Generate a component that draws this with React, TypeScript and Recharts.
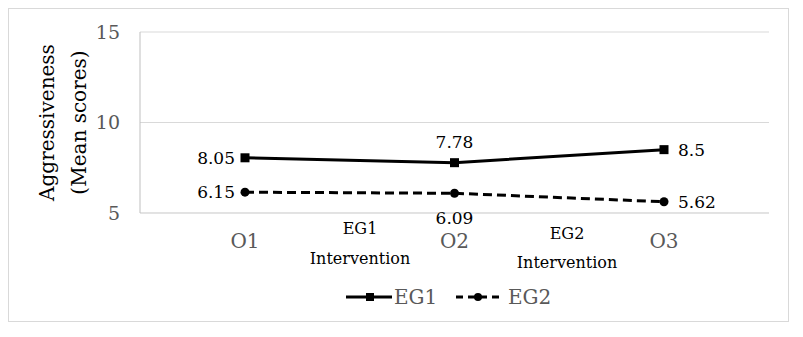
import React from "react";
import { LineChart, Line, XAxis, YAxis, CartesianGrid, Legend, LabelList, Customized } from "recharts";

const categories = ["O1", "O2", "O3"];
const eg1 = [8.05, 7.78, 8.5];
const eg2 = [6.15, 6.09, 5.62];
const yTicks = [5, 10, 15];
// where each value label sits around its point
const eg1LabelPos = ["left", "top", "right"];
const eg2LabelPos = ["left", "bottom", "right"];

const data = categories.map((c, i) => ({ name: c, EG1: eg1[i], EG2: eg2[i] }));

const FONT = "'DejaVu Serif', serif";
const TICK = "#595959";
const GRID = "#d9d9d9";

const SquareDot = (p: any) => (
  <rect x={p.cx - 4.5} y={p.cy - 4.5} width={9} height={9} fill="#000" />
);
const RoundDot = (p: any) => <circle cx={p.cx} cy={p.cy} r={4.5} fill="#000" />;

const valueLabel = (positions: string[]) => (p: any) => {
  const pos = positions[p.index];
  let x = p.x, y = p.y, anchor: any = "middle";
  if (pos === "left") { x -= 10; anchor = "end"; }
  if (pos === "right") { x += 14; anchor = "start"; }
  if (pos === "top") y -= 21;
  if (pos === "bottom") y += 25;
  return (
    <text x={x} y={y} textAnchor={anchor} dominantBaseline="central" fontFamily={FONT} fontSize={17} fill="#000">
      {p.value}
    </text>
  );
};

const YLabel = (p: any) => {
  const vb = p.viewBox;
  const cy = vb.y + vb.height / 2;
  return (
    <g fontFamily={FONT} fontSize={20} fill="#000">
      <text x={38} y={cy} transform={`rotate(-90 38 ${cy})`} textAnchor="middle" dominantBaseline="central">Aggressiveness</text>
      <text x={70} y={cy} transform={`rotate(-90 70 ${cy})`} textAnchor="middle" dominantBaseline="central">(Mean scores)</text>
    </g>
  );
};

const Notes = () => (
  <g fontFamily={FONT} fontSize={16} fill="#000" textAnchor="middle" dominantBaseline="central">
    <text x={351} y={219}>EG1</text>
    <text x={351} y={249}>Intervention</text>
    <text x={558} y={224}>EG2</text>
    <text x={558} y={253}>Intervention</text>
  </g>
);

const LegendContent = () => (
  <svg width={240} height={30} style={{ display: "block", marginLeft: 333 }}>
    <line x1={4} y1={15} x2={50} y2={15} stroke="#000" strokeWidth={3} />
    <rect x={24} y={11} width={8} height={8} fill="#000" />
    <text x={52} y={15} dominantBaseline="central" fontFamily={FONT} fontSize={20} fill={TICK}>EG1</text>
    <line x1={114} y1={15} x2={158} y2={15} stroke="#000" strokeWidth={3} strokeDasharray="7 5" />
    <circle cx={136} cy={15} r={4} fill="#000" />
    <text x={166} y={15} dominantBaseline="central" fontFamily={FONT} fontSize={20} fill={TICK}>EG2</text>
  </svg>
);

export default function App() {
  return (
    <div style={{ width: 779, height: 312, border: `1px solid ${GRID}`, background: "#fff" }}>
      <LineChart width={779} height={312} data={data} margin={{ top: 23, right: 19, bottom: 9, left: 0 }}>
        <CartesianGrid stroke={GRID} vertical={false} />
        <XAxis dataKey="name" padding={{ left: 105, right: 105 }} height={69} axisLine={{ stroke: GRID }} tickLine={false}
          tickMargin={15} tick={{ fill: TICK, fontSize: 20, fontFamily: FONT }} />
        <YAxis domain={[5, 15]} ticks={yTicks} width={131} axisLine={{ stroke: "#bfbfbf" }} tickLine={false} tickMargin={14}
          tick={{ fill: TICK, fontSize: 19, fontFamily: FONT }} label={<YLabel />} />
        <Legend verticalAlign="bottom" height={30} content={<LegendContent />} />
        <Line dataKey="EG1" stroke="#000" strokeWidth={3} dot={<SquareDot />} activeDot={false} isAnimationActive={false}>
          <LabelList dataKey="EG1" content={valueLabel(eg1LabelPos)} />
        </Line>
        <Line dataKey="EG2" stroke="#000" strokeWidth={3} strokeDasharray="9 5" dot={<RoundDot />} activeDot={false} isAnimationActive={false}>
          <LabelList dataKey="EG2" content={valueLabel(eg2LabelPos)} />
        </Line>
        <Customized component={Notes} />
      </LineChart>
    </div>
  );
}
